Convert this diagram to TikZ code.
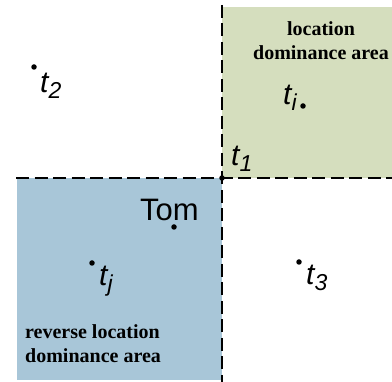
\documentclass[tikz,border=0pt]{standalone}
\usepackage{fontspec}
\setmainfont{Liberation Serif}
\newfontfamily\arialf{Liberation Sans}
\definecolor{domgreen}{RGB}{213,222,190}
\definecolor{revblue}{RGB}{168,198,216}
\newcommand{\tlab}[1]{{\arialf\itshape\fontsize{30}{30}\selectfont t\raisebox{-0.2em}{\fontsize{23}{23}\selectfont #1}}}
\tikzset{
  dotmark/.style={circle,fill=black,inner sep=0pt,minimum size=5.5pt},
  tlabel/.style={inner sep=0pt,anchor=base west},
  areatext/.style={inner sep=0pt,font=\bfseries\fontsize{20}{24}\selectfont},
  divider/.style={line width=1.2pt,dash pattern=on 13pt off 5.5pt},
}
\begin{document}
\begin{tikzpicture}[x=1pt,y=-1pt]
\useasboundingbox (0,0) rectangle (392,382);
\fill[domgreen] (222,7) rectangle (392,178);
\fill[revblue] (17,178) rectangle (222,380);
\coordinate (vtop) at (222,5);
\coordinate (vbot) at (222,382);
\coordinate (hleft) at (16,178);
\coordinate (hright) at (392,178);
\draw[divider] (vtop) -- (vbot);
\draw[divider] (hleft) -- (hright);
% points
\node[dotmark] (p1) at (222,178) {};
\node[dotmark] (p2) at (34,67) {};
\node[dotmark] (pi) at (303,106) {};
\node[dotmark] (pj) at (92,263) {};
\node[dotmark] (p3) at (299,262) {};
\node[dotmark] (ptom) at (174,227) {};
% labels
\node[tlabel] (l2) at (40,93) {\tlab{2}};
\node[tlabel] (li) at (283,105) {\tlab{i}};
\node[tlabel] (l1) at (231,166) {\tlab{1}};
\node[tlabel] (lj) at (99,286) {\tlab{j}};
\node[tlabel] (l3) at (306,285) {\tlab{3}};
\node[inner sep=0pt,anchor=base west] (tom) at (140,221) {\arialf\fontsize{31}{31}\selectfont Tom};
\node[areatext,align=center,anchor=north] (loc) at (321,21) {location\\dominance area};
\node[areatext,align=left,anchor=north west] (rev) at (25,324) {reverse location\\dominance area};
\end{tikzpicture}
\end{document}
